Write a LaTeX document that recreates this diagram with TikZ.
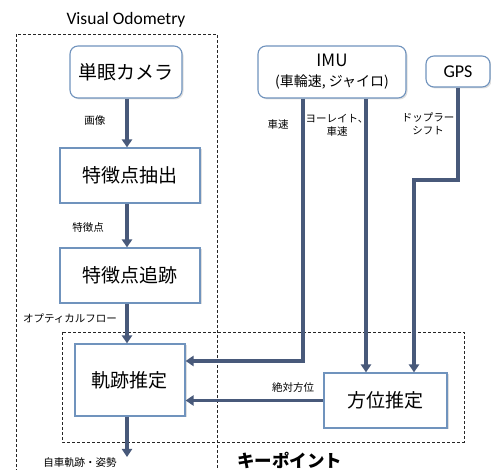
\documentclass[tikz,border=0pt]{standalone}
\usepackage{fontspec}
\setmainfont{Carlito}
\newfontfamily\jp{Noto Sans CJK JP}
\usetikzlibrary{arrows.meta,shadows,calc}
\definecolor{boxline}{HTML}{7093BD}
\definecolor{arrcol}{HTML}{48597A}
\begin{document}
\begin{tikzpicture}[x=1pt,y=-1pt,
  box/.style={draw=boxline,line width=1.1pt,fill=white,inner sep=0pt,
    drop shadow={opacity=0.25,shadow xshift=1.5pt,shadow yshift=-1.5pt},
    font=\jp\fontsize{19}{21}\selectfont},
  rbox/.style={box,rounded corners=8pt},
  arr/.style={draw=arrcol,line width=3.2pt,-{Triangle[width=10pt,length=8pt]}},
  lab/.style={font=\jp\fontsize{10.5}{13}\selectfont,align=center,inner sep=0pt},
  dbox/.style={draw=black!85,line width=0.8pt,dash pattern=on 3pt off 2pt}]
\useasboundingbox (0,0) rectangle (491,470);
% dashed frames
\draw[dbox] (16,472) -- (16,34) -- (217,34) -- (217,472);
\draw[dbox] (62,332) rectangle (464,442);
\node[font=\fontsize{17.5}{19}\selectfont,inner sep=0pt] (vo) at (126,20) {Visual Odometry};
\node[font=\jp\bfseries\fontsize{17.5}{19}\selectfont,inner sep=0pt,anchor=west] (kp) at (237,460) {キーポイント};
% boxes
\node[rbox,minimum width=112pt,minimum height=52pt] (cam) at (126,72) {単眼カメラ};
\node[box,minimum width=140pt,minimum height=55pt] (ext) at (130,175.5) {特徴点抽出};
\node[box,minimum width=140pt,minimum height=55pt] (track) at (130,275.5) {特徴点追跡};
\node[box,minimum width=110pt,minimum height=72pt] (traj) at (130,380) {軌跡推定};
\node[box,minimum width=123pt,minimum height=55pt] (azi) at (385.5,400.5) {方位推定};
\node[rbox,minimum width=148pt,minimum height=52pt,align=center] (imu) at (332,72)
  {{\fontsize{17}{19}\selectfont IMU}\\[-1pt]{\jp\fontsize{14}{16}\selectfont (車輪速, ジャイロ)}};
\node[rbox,minimum width=64pt,minimum height=31pt,font=\fontsize{18}{20}\selectfont] (gps) at (458,71.5) {GPS};
% coordinates
\coordinate (ax) at (127,0);
\coordinate (i1) at (303,361);
\coordinate (i2) at (366,0);
\coordinate (g1) at (414,180);
\coordinate (out) at (127,457);
% connectors
\draw[arr] (cam.south -| ax) -- (ext.north -| ax);
\draw[arr] (ext.south -| ax) -- (track.north -| ax);
\draw[arr] (track.south -| ax) -- (traj.north -| ax);
\draw[arr] (traj.south -| ax) -- (out);
\draw[arr] (imu.south -| i1) |- (traj.east |- i1);
\draw[arr] (imu.south -| i2) -- (azi.north -| i2);
\draw[arr] (gps.south) |- (g1) -- (azi.north -| g1);
\draw[arr] (azi.west) -- (traj.east |- azi.west);
% labels
\node[lab] (l1) at (95,121) {画像};
\node[lab] (l2) at (88,228) {特徴点};
\node[lab] (l3) at (70,319) {オプティカルフロー};
\node[lab] (l4) at (80,463) {自車軌跡・姿勢};
\node[lab] (l5) at (278,125) {車速};
\node[lab] (l6) at (337,125) {ヨーレイト、\\車速};
\node[lab] (l7) at (428,124) {ドップラー\\シフト};
\node[lab] (l8) at (293,388) {絶対方位};
\end{tikzpicture}
\end{document}
